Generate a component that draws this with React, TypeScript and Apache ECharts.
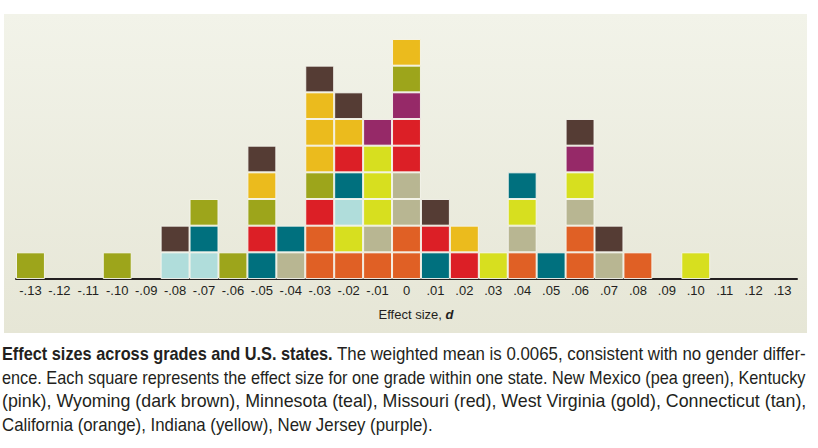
import React, { useEffect, useLayoutEffect, useRef } from "react";
import * as echarts from "echarts";

// Tick labels (effect size d), one category per column
const tickLabels: string[] = [
  "-.13", "-.12", "-.11", "-.10", "-.09", "-.08", "-.07", "-.06", "-.05", "-.04", "-.03", "-.02", "-.01",
  "0", ".01", ".02", ".03", ".04", ".05", ".06", ".07", ".08", ".09", ".10", ".11", ".12", ".13",
];

// State colours
const stateColors: Record<string, string> = {
  NM: "#9DA51B", // New Mexico (pea green)
  KY: "#B0DDDB", // Kentucky
  WY: "#553C34", // Wyoming (dark brown)
  MN: "#00707E", // Minnesota (teal)
  MO: "#DC1F26", // Missouri (red)
  WV: "#EBBB1D", // West Virginia (gold)
  CT: "#B8B692", // Connecticut (tan)
  CA: "#E06025", // California (orange)
  IN: "#D7DF1F", // Indiana (yellow)
  NJ: "#962968", // New Jersey (purple)
};

// Squares per column, bottom to top (one square = one grade within one state)
const columnStacks: string[][] = [
  ["NM"],                                           // -.13
  [],                                               // -.12
  [],                                               // -.11
  ["NM"],                                           // -.10
  [],                                               // -.09
  ["KY", "WY"],                                     // -.08
  ["KY", "MN", "NM"],                               // -.07
  ["NM"],                                           // -.06
  ["MN", "MO", "NM", "WV", "WY"],                   // -.05
  ["CT", "MN"],                                     // -.04
  ["CA", "CA", "MO", "NM", "WV", "WV", "WV", "WY"], // -.03
  ["CA", "IN", "KY", "MN", "MO", "WV", "WY"],       // -.02
  ["CA", "CT", "IN", "IN", "IN", "NJ"],             // -.01
  ["CA", "CA", "CT", "CT", "MO", "MO", "NJ", "NM", "WV"], // 0
  ["MN", "MO", "WY"],                               // .01
  ["MO", "WV"],                                     // .02
  ["IN"],                                           // .03
  ["CA", "CT", "IN", "MN"],                         // .04
  ["MN"],                                           // .05
  ["CA", "CA", "CT", "IN", "NJ", "WY"],             // .06
  ["CT", "WY"],                                     // .07
  ["CA"],                                           // .08
  [],                                               // .09
  ["IN"],                                           // .10
  [],                                               // .11
  [],                                               // .12
  [],                                               // .13
];

const captionBold = "Effect sizes across grades and U.S. states.";
const captionLines: string[] = [
  "The weighted mean is 0.0065, consistent with no gender differ-",
  "ence. Each square represents the effect size for one grade within one state. New Mexico (pea green), Kentucky",
  "(pink), Wyoming (dark brown), Minnesota (teal), Missouri (red), West Virginia (gold), Connecticut (tan),",
  "California (orange), Indiana (yellow), New Jersey (purple).",
];

// caption pieces: text, bold, x, baseline y, target width
const captionPieces: [string, boolean, number, number, number][] = [
  [captionBold, true, 2, 360, 331],
  [captionLines[0], false, 337, 360, 469],
  [captionLines[1], false, 2, 383.5, 804],
  [captionLines[2], false, 2, 407, 805],
  [captionLines[3], false, 2, 430.5, 431],
];

export default function App() {
  const ref = useRef<HTMLDivElement>(null);
  const textRefs = useRef<(SVGTextElement | null)[]>([]);

  useLayoutEffect(() => {
    captionPieces.forEach((p, i) => {
      const el = textRefs.current[i];
      if (!el) return;
      const w = el.getComputedTextLength();
      const s = w > 0 ? p[4] / w : 1;
      el.setAttribute("transform", `translate(${p[2]},${p[3]}) scale(${s},1)`);
    });
  }, []);

  useEffect(() => {
    const chart = echarts.init(ref.current!, null, { renderer: "svg" });
    const maxLevel = Math.max(...columnStacks.map((s) => s.length));
    const series: any[] = [];
    for (let level = 0; level < maxLevel; level++) {
      series.push({
        type: "bar",
        stack: "squares",
        barCategoryGap: "0%",
        barGap: "0%",
        data: columnStacks.map((stack) =>
          stack[level]
            ? { value: 1, itemStyle: { color: stateColors[stack[level]] } }
            : "-"
        ),
        itemStyle: { borderColor: "rgba(246,246,238,0.9)", borderWidth: 1 },
        emphasis: { disabled: true },
      });
    }

    chart.setOption({
      animation: false,
      backgroundColor: "transparent",
      graphic: [
        {
          type: "rect",
          z: -10,
          silent: true,
          shape: { x: 4, y: 14, width: 803, height: 319 },
          style: {
            fill: new echarts.graphic.LinearGradient(0, 0, 0, 1, [
              { offset: 0, color: "#F2F3E9" },
              { offset: 1, color: "#E6E6D6" },
            ]),
          },
        },
      ],
      grid: { left: 16, right: 21, top: 39, bottom: 169, containLabel: false },
      xAxis: {
        type: "category",
        data: tickLabels,
        name: "{a|Effect size, }{b|d}",
        nameLocation: "middle",
        nameGap: 29,
        nameTextStyle: {
          padding: [0, 0, 0, 19],
          rich: {
            a: { fontFamily: "Liberation Sans", fontSize: 13, color: "#231F20" },
            b: { fontFamily: "Liberation Sans", fontSize: 13, fontStyle: "italic", fontWeight: "bold", color: "#231F20" },
          },
        },
        axisLine: { lineStyle: { color: "#231F20", width: 2 } },
        axisTick: { show: false },
        axisLabel: {
          interval: 0,
          margin: 5,
          fontFamily: "Liberation Sans",
          fontSize: 13,
          color: "#231F20",
        },
        splitLine: { show: false },
      },
      yAxis: {
        type: "value",
        min: 0,
        max: 9,
        show: false,
        splitLine: { show: false },
      },
      series,
    });
    return () => chart.dispose();
  }, []);

  const font = "'Liberation Sans', Arial, sans-serif";
  return (
    <div style={{ position: "absolute", left: 0, top: 0, width: 818, height: 448, background: "#fff" }}>
      <div ref={ref} style={{ position: "absolute", left: 0, top: 0, width: 818, height: 448 }} />
      <svg
        width={818}
        height={448}
        style={{ position: "absolute", left: 0, top: 0, pointerEvents: "none" }}
      >
        <g fontFamily={font} fontSize={18} fill="#231F20">
          {captionPieces.map((p, i) => (
            <text
              key={i}
              ref={(el) => {
                textRefs.current[i] = el;
              }}
              x={0}
              y={0}
              fontWeight={p[1] ? "bold" : "normal"}
              transform={`translate(${p[2]},${p[3]})`}
            >
              {p[0]}
            </text>
          ))}
        </g>
      </svg>
    </div>
  );
}
